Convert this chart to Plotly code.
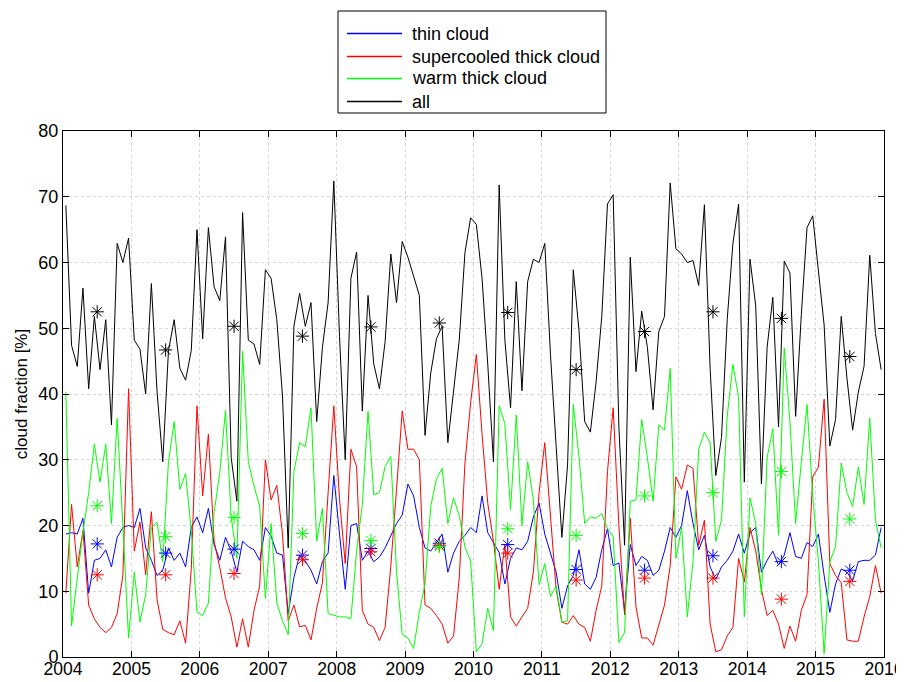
import plotly.graph_objects as go

years = list(range(2004, 2016))

thin = [18.7, 18.9, 18.7, 21.1, 9.7, 14.7, 15.0, 16.3, 13.7, 18.2, 19.7, 20.0,
        19.7, 22.6, 16.6, 14.7, 12.4, 13.2, 16.6, 14.7, 15.8, 13.7, 19.7, 21.3,
        18.9, 22.6, 17.1, 14.7, 18.2, 16.1, 12.9, 17.6, 16.8, 16.3, 14.7, 19.7,
        18.4, 15.8, 15.5, 6.6, 12.1, 15.5, 14.6, 13.2, 11.1, 14.5, 15.8, 27.6,
        18.7, 10.3, 20.0, 20.3, 14.7, 16.1, 14.5, 15.2, 16.6, 18.4, 20.3, 21.6,
        26.3, 24.5, 19.7, 16.6, 16.1, 17.4, 18.7, 12.9, 15.8, 17.6, 18.5, 19.7,
        18.9, 24.5, 18.9, 17.4, 15.9, 11.1, 15.0, 16.6, 16.3, 17.6, 21.3, 23.4,
        18.7, 15.8, 12.9, 7.4, 10.8, 12.4, 16.3, 11.1, 10.3, 12.1, 16.3, 19.5,
        13.9, 14.3, 7.0, 17.1, 13.9, 15.3, 14.7, 12.4, 13.2, 16.1, 19.7, 18.2,
        20.0, 25.3, 20.3, 16.3, 18.5, 13.7, 11.8, 13.7, 14.7, 16.1, 18.7, 15.8,
        18.9, 19.7, 12.9, 14.7, 16.1, 14.0, 15.5, 18.9, 15.3, 15.0, 17.4, 16.8,
        18.7, 12.4, 6.8, 11.1, 13.4, 12.9, 11.6, 14.5, 14.7, 14.7, 15.5, 19.7]

supercooled = [9.7, 23.2, 13.7, 19.2, 7.9, 5.8, 4.5, 3.7, 4.5, 6.6, 12.4, 40.8,
               16.1, 20.5, 12.5, 22.1, 8.7, 4.2, 3.7, 3.4, 5.5, 2.1, 13.4, 38.2,
               24.5, 33.9, 17.6, 13.6, 9.0, 6.1, 1.5, 5.8, 1.5, 7.1, 10.8, 30.0,
               23.9, 26.1, 18.7, 5.5, 7.9, 4.6, 4.8, 2.6, 7.4, 11.3, 25.0, 38.2,
               24.0, 14.2, 31.6, 28.9, 7.1, 5.0, 4.5, 2.5, 4.5, 13.9, 25.5, 37.4,
               31.6, 31.6, 30.0, 7.9, 7.4, 6.3, 5.0, 2.1, 3.2, 12.0, 29.5, 38.7,
               46.0, 33.9, 23.4, 17.6, 10.3, 17.1, 6.1, 4.7, 6.1, 7.4, 12.9, 25.0,
               32.6, 21.3, 10.3, 5.3, 5.0, 6.3, 5.0, 4.5, 2.4, 7.1, 10.8, 28.2,
               37.9, 20.0, 6.4, 21.1, 7.6, 2.9, 2.9, 1.8, 5.0, 7.9, 13.9, 27.4,
               25.5, 29.2, 28.7, 17.0, 20.8, 5.0, 0.8, 1.1, 3.2, 4.5, 15.0, 11.4,
               19.7, 16.1, 10.3, 6.3, 7.1, 5.0, 1.3, 4.7, 2.4, 7.1, 9.5, 27.4,
               28.9, 39.2, 14.2, 12.4, 11.3, 2.6, 2.4, 2.4, 6.1, 9.2, 13.9, 9.7]

warm = [40.3, 4.7, 12.0, 19.0, 25.0, 32.4, 26.6, 32.4, 20.3, 36.3, 20.0, 2.9,
        12.9, 5.3, 9.5, 19.7, 20.5, 14.5, 29.7, 35.8, 25.5, 27.9, 19.2, 6.8,
        6.3, 8.2, 22.0, 28.0, 37.5, 21.3, 15.0, 46.5, 29.7, 26.0, 22.9, 8.9,
        20.3, 8.2, 5.5, 3.4, 28.2, 32.6, 32.0, 37.9, 17.6, 22.6, 6.6, 6.3,
        6.1, 6.1, 5.8, 16.1, 23.2, 37.4, 24.7, 25.0, 29.0, 30.5, 12.9, 3.4,
        2.9, 1.3, 6.8, 11.1, 22.9, 27.1, 28.7, 20.3, 24.2, 21.5, 16.7, 14.6,
        0.8, 2.0, 7.4, 4.0, 38.2, 35.5, 22.4, 36.8, 20.0, 29.7, 23.9, 11.0,
        14.2, 9.2, 10.8, 5.3, 5.5, 38.4, 30.5, 20.3, 21.3, 21.1, 21.8, 19.5,
        18.4, 2.2, 3.7, 23.7, 23.9, 36.1, 30.3, 23.7, 35.3, 34.5, 43.9, 15.0,
        19.7, 6.1, 14.5, 31.6, 34.2, 32.6, 17.6, 20.8, 36.6, 44.5, 39.5, 6.1,
        24.2, 20.3, 9.5, 30.3, 34.7, 18.5, 47.0, 35.8, 20.3, 29.7, 38.4, 24.5,
        14.5, 0.5, 14.5, 16.8, 29.5, 25.0, 22.9, 28.9, 23.2, 36.3, 20.8, 16.6]

all_cloud = [68.7, 47.4, 44.2, 56.1, 40.8, 51.8, 43.7, 51.3, 35.3, 62.9, 60.0, 63.7,
             48.2, 46.8, 40.0, 56.8, 40.3, 29.7, 46.6, 51.3, 43.9, 42.1, 46.6, 65.0,
             48.4, 65.3, 56.3, 54.2, 63.9, 30.3, 23.7, 67.6, 48.2, 47.6, 44.5, 58.9,
             57.6, 51.3, 39.7, 16.6, 50.3, 55.3, 50.3, 53.9, 35.8, 47.1, 53.9, 72.4,
             48.7, 30.0, 57.6, 61.6, 37.4, 55.0, 44.6, 40.8, 48.0, 61.3, 53.9, 63.2,
             60.8, 57.9, 55.0, 33.7, 43.2, 48.4, 50.3, 32.6, 40.8, 48.2, 61.5, 66.8,
             65.8, 57.6, 44.5, 29.7, 71.8, 48.2, 37.9, 57.1, 40.5, 57.1, 60.5, 60.0,
             62.9, 46.0, 32.0, 18.2, 29.2, 58.9, 49.7, 35.8, 34.2, 41.8, 51.8, 68.9,
             70.3, 35.0, 17.0, 60.8, 43.4, 52.6, 47.1, 37.6, 49.5, 51.8, 72.1, 62.1,
             61.3, 60.0, 60.3, 56.5, 68.8, 43.9, 27.6, 33.4, 51.3, 62.9, 68.9, 26.6,
             60.5, 53.4, 26.3, 47.1, 54.7, 35.0, 60.2, 58.4, 36.6, 52.1, 65.3, 67.1,
             58.7, 50.5, 32.1, 36.1, 51.8, 42.4, 34.5, 40.3, 44.2, 61.1, 49.2, 43.7]

# annual means (asterisks), plotted at mid-year
thin_year = [17.2, 15.8, 16.4, 15.5, 16.5, 17.3, 17.1, 13.3, 13.2, 15.4, 14.5, 13.2]
supercooled_year = [12.5, 12.5, 12.7, 14.8, 16.0, 17.0, 15.8, 11.7, 12.0, 12.0, 8.8, 11.5]
warm_year = [23.0, 18.3, 21.2, 18.8, 17.7, 16.8, 19.5, 18.5, 24.5, 25.0, 28.2, 21.0]
all_year = [52.5, 46.7, 50.3, 48.8, 50.2, 50.8, 52.4, 43.7, 49.5, 52.5, 51.5, 45.7]

x_ticks = list(range(2004, 2017))
y_ticks = list(range(0, 90, 10))

months = [y + (m + 0.5) / 12 for y in years for m in range(12)]
mid_year = [y + 0.5 for y in years]

series = [
    ("thin cloud", thin, thin_year, "#0000ff"),
    ("supercooled thick cloud", supercooled, supercooled_year, "#ff0000"),
    ("warm thick cloud", warm, warm_year, "#00ff00"),
    ("all", all_cloud, all_year, "#000000"),
]

# figure geometry (page body has an 8px margin)
FIG_W, FIG_H = 896, 674
ML, MR, MT, MB = 55, 20, 123, 25
PW, PH = FIG_W - ML - MR, FIG_H - MT - MB
OFF = 8


def px(sx):
    return (sx - OFF - ML) / PW


def py(sy):
    return (FIG_H - MB - (sy - OFF)) / PH


fig = go.Figure()
for name, vals, yr, col in series:
    fig.add_trace(go.Scatter(x=months, y=vals, mode="lines", name=name,
                             showlegend=False,
                             line=dict(color=col, width=1)))
for name, vals, yr, col in series:
    fig.add_trace(go.Scatter(x=mid_year, y=yr, mode="markers", showlegend=False,
                             hoverinfo="skip",
                             marker=dict(symbol="asterisk-open", size=11, color=col,
                                         line=dict(color=col, width=1))))

font = "Liberation Sans, Arial, Helvetica, sans-serif"

# legend box drawn as shapes + text
shapes = [dict(type="rect", xref="paper", yref="paper",
               x0=px(338), x1=px(606), y0=py(113), y1=py(11),
               line=dict(color="black", width=1), fillcolor="white", layer="above")]
annotations = []
rows = [33.5, 56.5, 78.5, 101.5]
for (name, vals, yr, col), ry in zip(series, rows):
    shapes.append(dict(type="line", xref="paper", yref="paper",
                       x0=px(347), x1=px(402), y0=py(ry), y1=py(ry),
                       line=dict(color=col, width=1.3), layer="above"))
    annotations.append(dict(text=name, xref="paper", yref="paper",
                            x=px(410), y=py(ry), xanchor="left", yanchor="middle",
                            showarrow=False,
                            font=dict(size=18, family=font, color="black")))

axis_common = dict(showline=True, linecolor="black", linewidth=1, mirror="ticks",
                   ticks="inside", ticklen=6, tickcolor="black",
                   showgrid=True, gridcolor="#d6d6d6", griddash="3px,3px", gridwidth=1,
                   zeroline=False, automargin=False, ticklabeloverflow="allow")

fig.update_layout(
    width=FIG_W, height=FIG_H,
    margin=dict(l=ML, r=MR, t=MT, b=MB, autoexpand=False),
    paper_bgcolor="white", plot_bgcolor="white",
    font=dict(family=font, color="black"),
    xaxis=dict(range=[2004, 2016], tickmode="array", tickvals=x_ticks,
               ticktext=[str(v) for v in x_ticks], ticklabelstandoff=-4,
               tickfont=dict(size=17.5, color="black", family=font),
               **axis_common),
    yaxis=dict(range=[0, 80], tickmode="array", tickvals=y_ticks,
               ticktext=[str(v) for v in y_ticks],
               tickfont=dict(size=18, color="black", family=font),
               title=dict(text="cloud fraction [%]", font=dict(size=17, family=font),
                          standoff=6),
               **axis_common),
    shapes=shapes,
    annotations=annotations,
    showlegend=False,
)

fig.write_html(
    "out.html",
    post_script="document.documentElement.style.overflow='hidden';"
                "document.body.style.overflow='hidden';",
)
